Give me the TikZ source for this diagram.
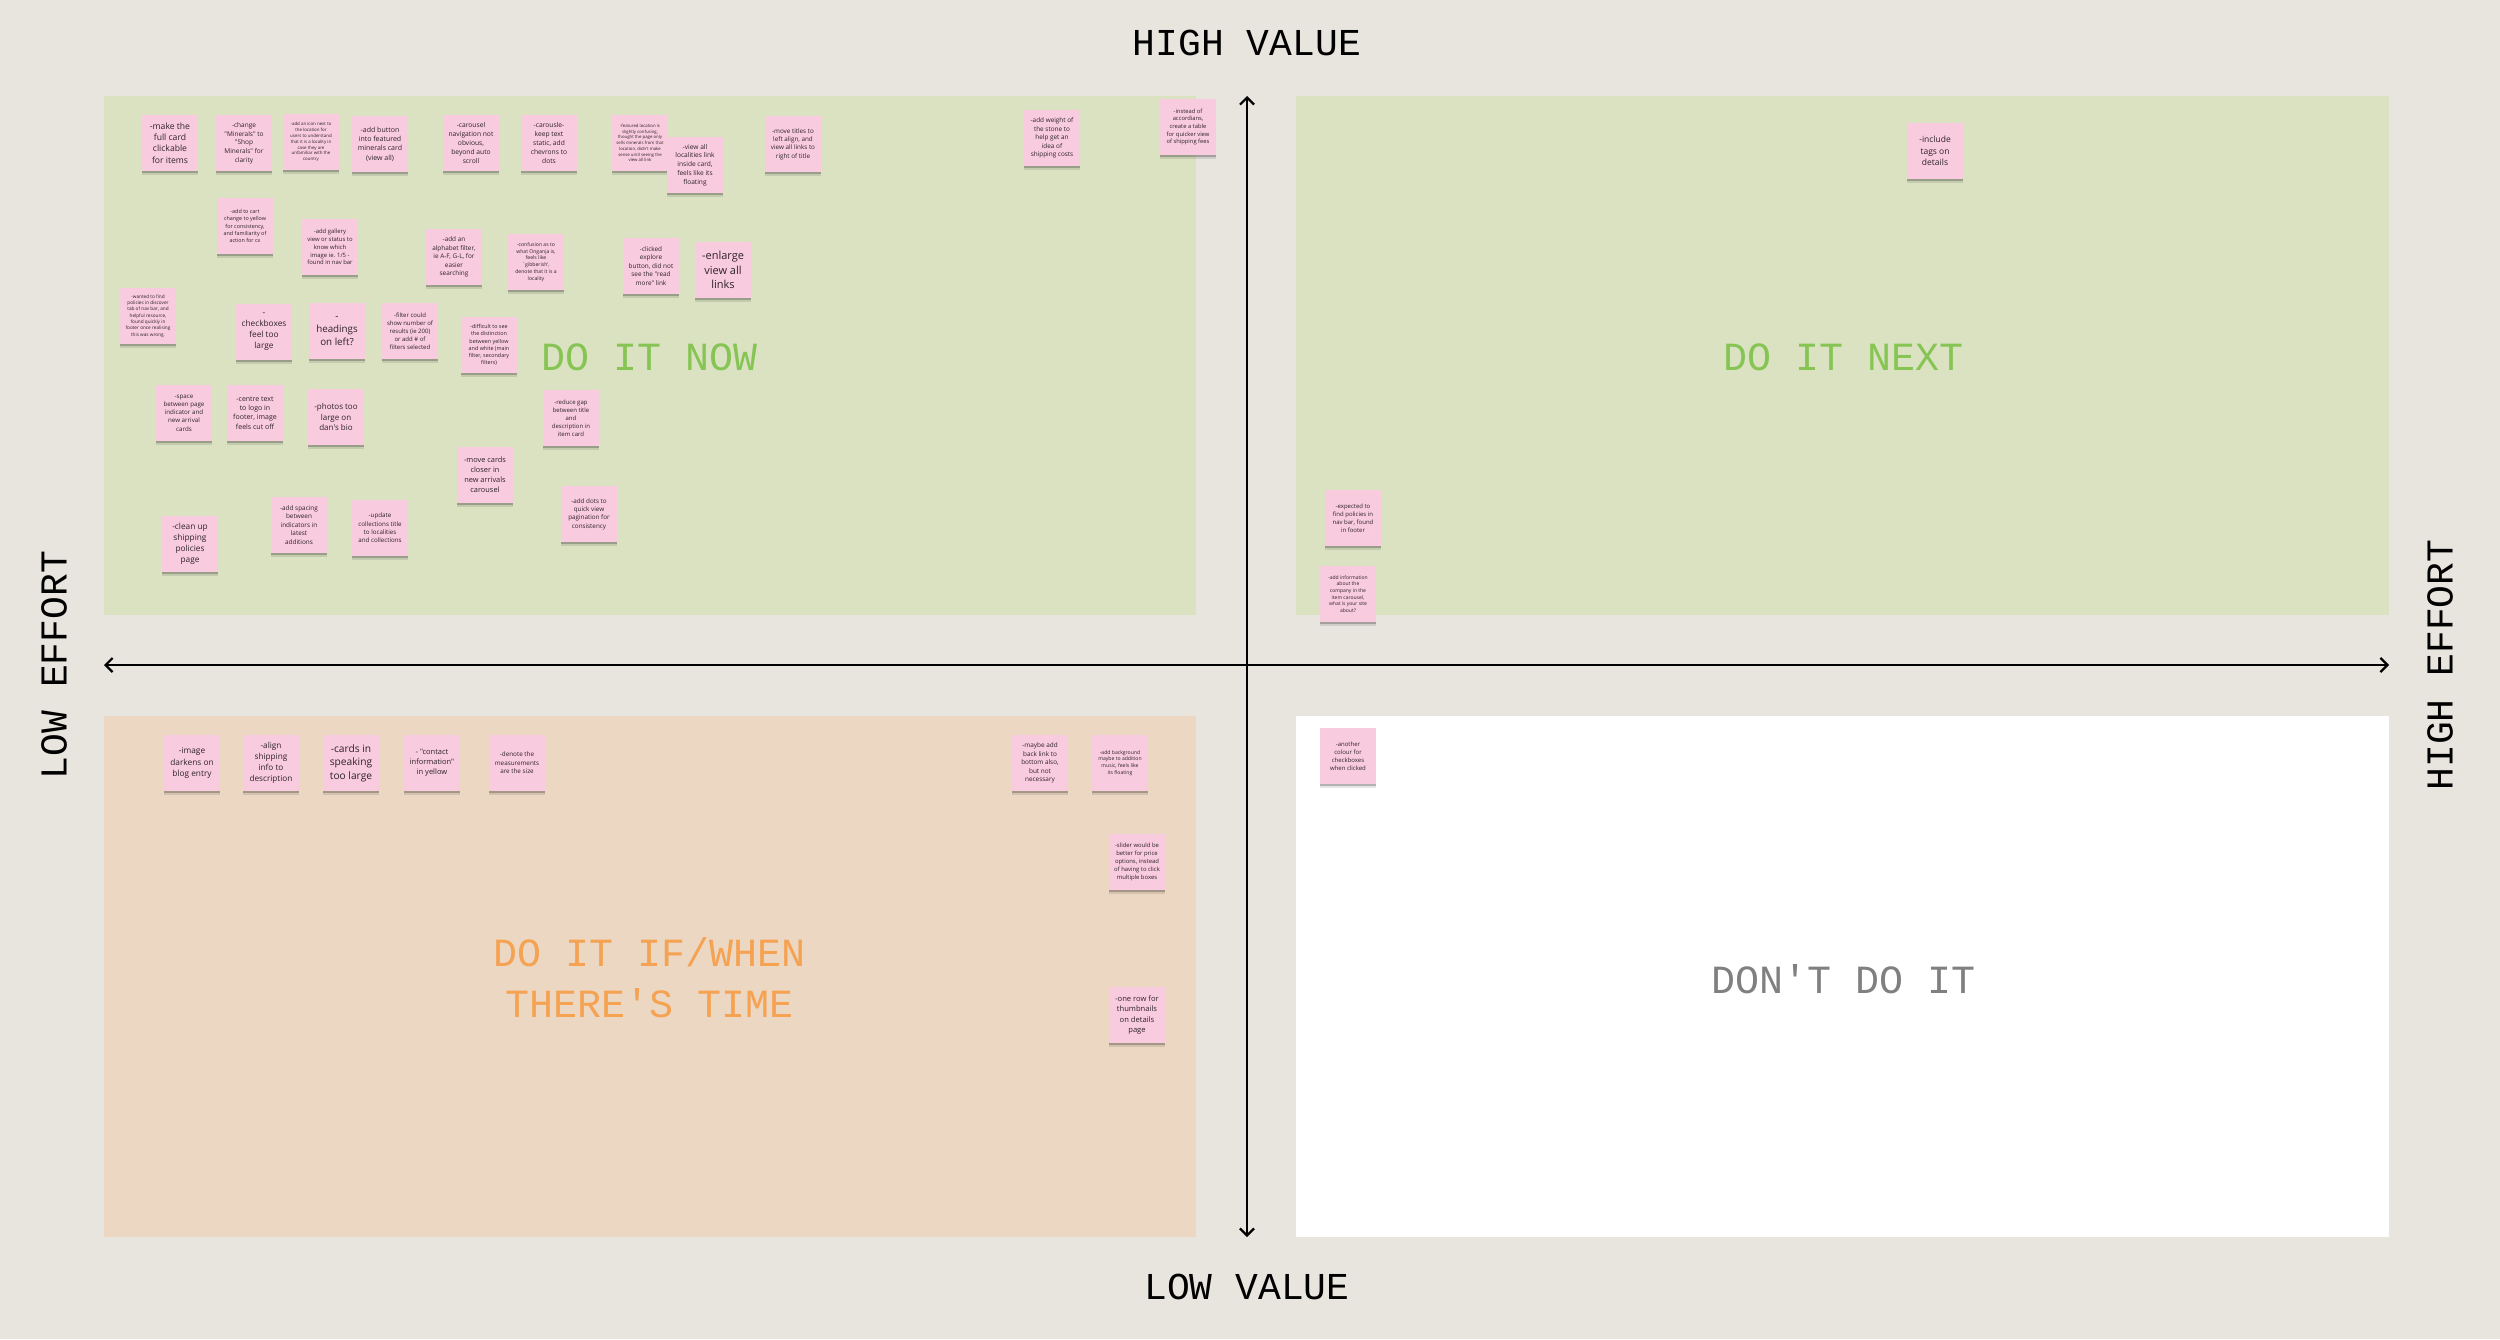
\documentclass[tikz,border=0pt]{standalone}
\usepackage{fontspec}
\setmainfont{Open Sans}
\newfontfamily\notefont{Open Sans}
\newfontfamily\labfont{Liberation Mono}
\usetikzlibrary{arrows.meta,shadows}
\definecolor{bgcol}{RGB}{232,229,223}
\definecolor{greenq}{RGB}{218,226,194}
\definecolor{orangeq}{RGB}{236,216,194}
\definecolor{notepink}{RGB}{249,203,222}
\definecolor{notetext}{RGB}{45,35,40}
\definecolor{titlegreen}{RGB}{134,196,84}
\definecolor{titleorange}{RGB}{245,162,82}
\definecolor{titlegrey}{RGB}{128,128,128}
\newcommand\ns[1]{\notefont\fontsize{#1}{\dimexpr#1pt*4/3\relax}\selectfont}
\tikzset{
  note/.style={fill=notepink, minimum width=56pt, minimum height=56pt, inner sep=1pt,
    align=center, text=notetext, font=\ns{#1},
    drop shadow={shadow xshift=0pt, shadow yshift=-2pt, opacity=.22, fill=black},
    drop shadow={shadow xshift=0pt, shadow yshift=-4pt, opacity=.10, fill=black}},
  axislab/.style={font=\labfont\fontsize{38}{44}\selectfont, text=black},
  qtitle/.style={font=\labfont\fontsize{40}{51}\selectfont, align=center},
  axis/.style={line width=2.4pt, black, {Straight Barb[length=7pt,width=14pt,line width=2.2pt]}-{Straight Barb[length=7pt,width=14pt,line width=2.2pt]}}
}
\begin{document}
\begin{tikzpicture}[x=1pt,y=-1pt]
\path[use as bounding box, fill=bgcol] (0,0) rectangle (2500,1339);
% quadrants
\path[fill=greenq] (104,96) rectangle (1196,615);
\path[fill=greenq] (1296,96) rectangle (2389,615);
\path[fill=orangeq] (104,716) rectangle (1196,1237);
\path[fill=white] (1296,716) rectangle (2389,1237);
% axes
\coordinate (vtop) at (1247,96);
\coordinate (vbot) at (1247,1237);
\coordinate (hleft) at (104,665);
\coordinate (hright) at (2389,665);
\draw[axis] (vtop) -- (vbot);
\draw[axis] (hleft) -- (hright);
% axis labels
\node[axislab] (hv) at (1247,43) {HIGH VALUE};
\node[axislab] (lv) at (1247,1287) {LOW VALUE};
\node[axislab, rotate=90] (le) at (54,665) {LOW EFFORT};
\node[axislab, rotate=90] (he) at (2440,665) {HIGH EFFORT};
% quadrant titles
\node[qtitle, text=titlegreen] (tnow) at (650,357) {DO IT NOW};
\node[qtitle, text=titlegreen] (tnext) at (1843,357) {DO IT NEXT};
\node[qtitle, text=titleorange] (tif) at (650,978) {DO IT IF/WHEN\\THERE'S TIME};
\node[qtitle, text=titlegrey] (tdont) at (1843,979) {DON'T DO IT};
% notes: do it now
\node[note=8.6] (n1) at (170,143) {-make the\\full card\\clickable\\for items};
\node[note=6.5] (n2) at (244,143) {-change\\"Minerals" to\\"Shop\\Minerals" for\\clarity};
\node[note=4.4] (n3) at (311,142) {-add an icon next to\\the location for\\users to understand\\that it is a locality in\\case they are\\unfamiliar with the\\country};
\node[note=7] (n4) at (380,144) {-add button\\into featured\\minerals card\\(view all)};
\node[note=5.4] (n5) at (245,226) {-add to cart\\change to yellow\\for consistency,\\and familiarity of\\action for cx};
\node[note=5.9] (n6) at (330,247) {-add gallery\\view or status to\\know which\\image ie. 1/5 -\\found in nav bar};
\node[note=6.7] (n7) at (471,143) {-carousel\\navigation not\\obvious,\\beyond auto\\scroll};
\node[note=6.7] (n8) at (549,143) {-carousle-\\keep text\\static, add\\chevrons to\\dots};
\node[note=4.3] (n9) at (640,143) {-featured location is\\slightly confusing,\\thought the page only\\sells minerals from that\\location, didn't make\\sense until seeing the\\view all link};
\node[note=6.6] (n10) at (695,165) {-view all\\localities link\\inside card,\\feels like its\\floating};
\node[note=6.3] (n11) at (793,144) {-move titles to\\left align, and\\view all links to\\right of title};
\node[note=6.4] (n12) at (1052,138) {-add weight of\\the stone to\\help get an\\idea of\\shipping costs};
\node[note=5.8] (n13) at (1188,127) {-instead of\\accordians,\\create a table\\for quicker view\\of shipping fees};
\node[note=4.7] (n14) at (148,316) {-wanted to find\\policies in discover\\tab of nav bar, and\\helpful resource,\\found quickly in\\footer once realising\\this was wrong.};
\node[note=8.3] (n15) at (264,332) {-\\checkboxes\\feel too\\large};
\node[note=9.8] (n16) at (337,331) {-\\headings\\on left?};
\node[note=6] (n17) at (410,331) {-filter could\\show number of\\results (ie 200)\\or add \# of\\filters selected};
\node[note=6.4] (n18) at (454,257) {-add an\\alphabet filter,\\ie A-F, G-L, for\\easier\\searching};
\node[note=5.4] (n19) at (489,345) {-difficult to see\\the distinction\\between yellow\\and white (main\\filter, secondary\\filters)};
\node[note=5.1] (n20) at (536,262) {-confusion as to\\what Onganja is,\\feels like\\`gibberish',\\denote that it is a\\locality};
\node[note=6.4] (n21) at (651,266) {-clicked\\explore\\button, did not\\see the "read\\more" link};
\node[note=11] (n22) at (723,270) {-enlarge\\view all\\links};
\node[note=6.2] (n23) at (184,413) {-space\\between page\\indicator and\\new arrival\\cards};
\node[note=7] (n24) at (255,413) {-centre text\\to logo in\\footer, image\\feels cut off};
\node[note=8] (n25) at (336,417) {-photos too\\large on\\dan's bio};
\node[note=6] (n26) at (571,418) {-reduce gap\\between title\\and\\description in\\item card};
\node[note=7.4] (n27) at (485,475) {-move cards\\closer in\\new arrivals\\carousel};
\node[note=6.3] (n28) at (589,514) {-add dots to\\quick view\\pagination for\\consistency};
\node[note=8.3] (n29) at (190,544) {-clean up\\shipping\\policies\\page};
\node[note=6.4] (n30) at (299,525) {-add spacing\\between\\indicators in\\latest\\additions};
\node[note=6.2] (n31) at (380,528) {-update\\collections title\\to localities\\and collections};
% do it next
\node[note=8.5] (n41) at (1935,151) {-include\\tags on\\details};
\node[note=6] (n42) at (1353,518) {-expected to\\find policies in\\nav bar, found\\in footer};
\node[note=5] (n43) at (1348,594) {-add information\\about the\\company in the\\item carousel,\\what is your site\\about?};
% do it if/when
\node[note=8.3] (n32) at (192,763) {-image\\darkens on\\blog entry};
\node[note=8.2] (n33) at (271,763) {-align\\shipping\\info to\\description};
\node[note=10.2] (n34) at (351,763) {-cards in\\speaking\\too large};
\node[note=7.5] (n35) at (432,763) {- "contact\\information"\\in yellow};
\node[note=6.3] (n36) at (517,763) {-denote the\\measurements\\are the size};
\node[note=6.4] (n37) at (1040,763) {-maybe add\\back link to\\bottom also,\\but not\\necessary};
\node[note=5.1] (n38) at (1120,763) {-add background\\maybe to addition\\music, feels like\\its floating};
\node[note=5.9] (n39) at (1137,862) {-slider would be\\better for price\\options, instead\\of having to click\\multiple boxes};
\node[note=7.6] (n40) at (1137,1015) {-one row for\\thumbnails\\on details\\page};
% don't do it
\node[note=6] (n44) at (1348,756) {-another\\colour for\\checkboxes\\when clicked};
\end{tikzpicture}
\end{document}
